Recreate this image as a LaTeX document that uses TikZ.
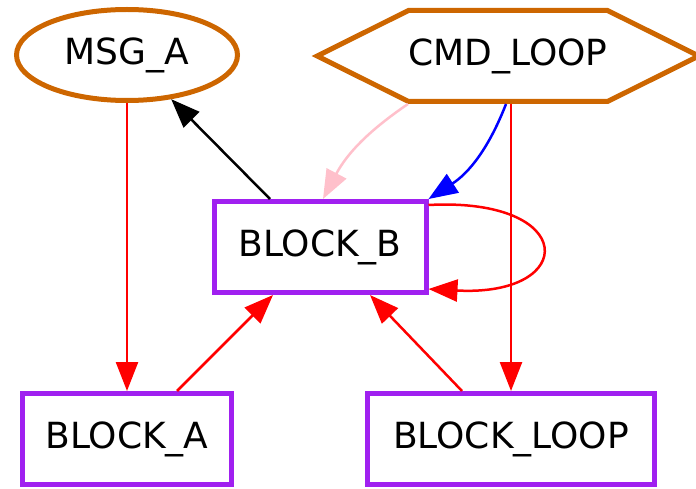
\documentclass[tikz,border=0pt]{standalone}
\usepackage{fontspec}
\setmainfont{DejaVu Sans}
\usetikzlibrary{arrows.meta,shapes.geometric,shapes.symbols}
\definecolor{dorange}{HTML}{CD6600}
\definecolor{gvpurple}{HTML}{A020F0}
\definecolor{gvpink}{HTML}{FFC0CB}

\begin{document}
\begin{tikzpicture}[x=1pt,y=1pt,font=\fontsize{36}{43}\selectfont,
  block/.style={draw=gvpurple,line width=5pt,rectangle,minimum height=91pt,inner sep=0pt},
  msg/.style={draw=dorange,line width=5pt,ellipse,minimum width=221pt,minimum height=91pt,inner sep=0pt},
  cmd/.style={draw=dorange,line width=5pt,signal,signal to=west and east,signal pointer angle=53,minimum width=366pt,minimum height=91pt,inner sep=0pt},
  edge/.style={line width=2.5pt,-{Triangle[length=29pt,width=22pt]}}]
\useasboundingbox (0,0) rectangle (696,488);
\node[msg] (msga) at (127,433) {MSG\_A};
\node[cmd] (cmdloop) at (508,432) {CMD\_LOOP};
\node[block,minimum width=212pt] (blockb) at (320,241) {BLOCK\_B};
\node[block,minimum width=209pt] (blocka) at (127,49) {BLOCK\_A};
\node[block,minimum width=287pt] (blockloop) at (511,49) {BLOCK\_LOOP};
% edges
\draw[edge,red] (msga) -- (blocka);
\draw[edge] ([xshift=-50pt]blockb.north) -- (msga.315);
\draw[edge,gvpink] ([xshift=-100pt]cmdloop.south) to[bend right=14] ([xshift=3pt]blockb.north);
\draw[edge,blue] ([xshift=-2pt]cmdloop.south) to[bend left=18] (blockb.north east);
\draw[edge,red] ([xshift=3pt]cmdloop.south) -- (blockloop.north);
\draw[edge,red] ([xshift=50pt]blocka.north) -- ([xshift=-47pt]blockb.south);
\draw[edge,red] ([xshift=-49pt]blockloop.north) -- ([xshift=50pt]blockb.south);
\draw[edge,red] ([yshift=-6pt]blockb.north east) .. controls +(150,8) and +(150,-8) .. ([yshift=6pt]blockb.south east);
\end{tikzpicture}
\end{document}
